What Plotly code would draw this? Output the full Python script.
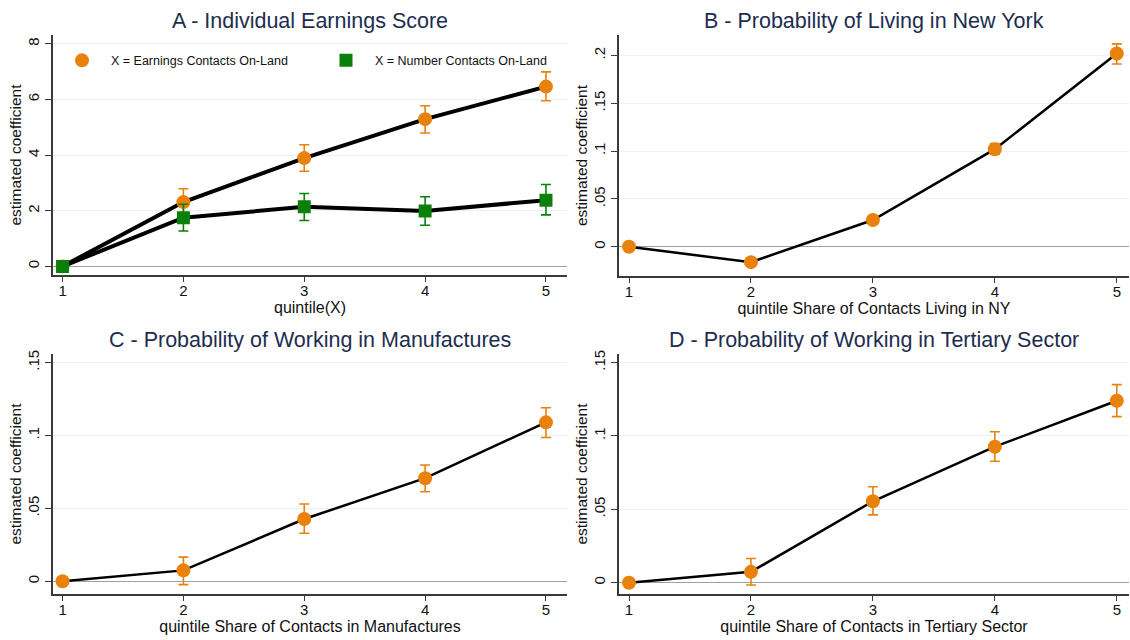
import plotly.graph_objects as go

W, H = 1130, 640

quintiles = [1, 2, 3, 4, 5]

# Panel A
a_earn = [0, 2.31, 3.89, 5.29, 6.46]
a_earn_hi = [0, 2.79, 4.37, 5.77, 6.99]
a_earn_lo = [0, 1.83, 3.42, 4.79, 5.95]
a_num = [0, 1.75, 2.14, 1.99, 2.38]
a_num_hi = [0, 2.23, 2.62, 2.50, 2.94]
a_num_lo = [0, 1.27, 1.65, 1.48, 1.85]

# Panel B
b_val = [0, -0.016, 0.028, 0.102, 0.202]
b_hi = [0, -0.014, 0.031, 0.108, 0.212]
b_lo = [0, -0.018, 0.025, 0.097, 0.191]

# Panel C
c_val = [0, 0.0075, 0.0427, 0.0707, 0.109]
c_hi = [0, 0.0166, 0.053, 0.0798, 0.119]
c_lo = [0, -0.0023, 0.033, 0.0614, 0.0986]

# Panel D
d_val = [0, 0.0074, 0.0555, 0.0927, 0.124]
d_hi = [0, 0.0165, 0.0654, 0.1029, 0.135]
d_lo = [0, -0.0016, 0.0462, 0.0828, 0.1132]

titles = ["A - Individual Earnings Score", "B - Probability of Living in New York",
          "C - Probability of Working in Manufactures", "D - Probability of Working in Tertiary Sector"]
xtitles = ["quintile(X)", "quintile Share of Contacts Living in NY",
           "quintile Share of Contacts in Manufactures", "quintile Share of Contacts in Tertiary Sector"]
ytitle = "estimated coefficient"

a_ticks = [0, 2, 4, 6, 8]
a_ticklabels = ["0", "2", "4", "6", "8"]
b_ticks = [0, 0.05, 0.1, 0.15, 0.2]
b_ticklabels = ["0", ".05", ".1", ".15", ".2"]
cd_ticks = [0, 0.05, 0.1, 0.15]
cd_ticklabels = ["0", ".05", ".1", ".15"]

legend_names = ["X = Earnings Contacts On-Land", "X = Number Contacts On-Land"]

ORANGE = "#E8820C"
GREEN = "#0A800A"
TITLE_COL = "#1E2D4F"
FONT = "Liberation Sans, Arial, sans-serif"

def px_x(a, b):
    return [a / W, b / W]

def px_y(top, bottom):
    return [1 - bottom / H, 1 - top / H]

panels = [
    dict(xd=px_x(53, 567), yd=px_y(31, 273), xr=[0.921, 5.174], yr=[-0.32, 8.32],
         tv=a_ticks, tt=a_ticklabels),
    dict(xd=px_x(619, 1129), yd=px_y(31, 274), xr=[0.918, 5.10], yr=[-0.0308, 0.2215],
         tv=b_ticks, tt=b_ticklabels),
    dict(xd=px_x(53, 567), yd=px_y(352, 594), xr=[0.921, 5.174], yr=[-0.0089, 0.156],
         tv=cd_ticks, tt=cd_ticklabels),
    dict(xd=px_x(619, 1129), yd=px_y(352, 594), xr=[0.918, 5.10], yr=[-0.0079, 0.156],
         tv=cd_ticks, tt=cd_ticklabels),
]

fig = go.Figure()
layout = dict(width=W, height=H, margin=dict(l=0, r=0, t=0, b=0),
              paper_bgcolor="white", plot_bgcolor="white",
              font=dict(family=FONT, color="#111"))

annotations = []
for i, p in enumerate(panels):
    n = "" if i == 0 else str(i + 1)
    layout["xaxis" + n] = dict(domain=p["xd"], range=p["xr"], anchor="y" + n,
                               tickvals=quintiles, ticktext=[str(q) for q in quintiles],
                               showgrid=False, zeroline=False, showline=True,
                               linecolor="#3a3a3a", linewidth=1.5,
                               ticks="outside", ticklen=5, tickcolor="#3a3a3a",
                               ticklabelstandoff=-4,
                               tickfont=dict(size=15, color="#111"),
                               title=dict(text=xtitles[i], font=dict(size=16, color="#111"),
                                          standoff=0))
    layout["yaxis" + n] = dict(domain=p["yd"], range=p["yr"], anchor="x" + n,
                               tickvals=p["tv"], ticktext=p["tt"], tickangle=-90,
                               showgrid=True, gridcolor="#EAF2F3", gridwidth=1.2,
                               zeroline=True, zerolinecolor="#A0A0A0", zerolinewidth=1.3,
                               showline=True, linecolor="#3a3a3a", linewidth=1.5,
                               ticks="outside", ticklen=6, tickcolor="#3a3a3a",
                               tickfont=dict(size=15, color="#111"),
                               title=dict(text=ytitle, font=dict(size=15.5, color="#111"),
                                          standoff=0))
    annotations.append(dict(text=titles[i], xref="paper", yref="paper",
                            x=(p["xd"][0] + p["xd"][1]) / 2, y=p["yd"][1] + 0 / H,
                            xanchor="center", yanchor="bottom", showarrow=False,
                            font=dict(size=21.5, color=TITLE_COL, family=FONT)))

def add_series(vals, hi, lo, color, symbol, n, lw, name=None, showlegend=False):
    xa = "x" + n
    ya = "y" + n
    fig.add_trace(go.Scatter(x=quintiles, y=vals, mode="lines",
                             line=dict(color="black", width=lw),
                             xaxis=xa, yaxis=ya, showlegend=False, hoverinfo="skip"))
    fig.add_trace(go.Scatter(x=quintiles, y=vals, mode="markers",
                             marker=dict(color=color, size=14 if symbol == "circle" else 13,
                                         symbol=symbol, line=dict(width=0)),
                             error_y=dict(type="data", symmetric=False,
                                          array=[h - v for h, v in zip(hi, vals)],
                                          arrayminus=[v - l for v, l in zip(vals, lo)],
                                          color=color, thickness=1.6, width=5),
                             xaxis=xa, yaxis=ya, name=name, showlegend=showlegend))

add_series(a_earn, a_earn_hi, a_earn_lo, ORANGE, "circle", "", 4, legend_names[0], True)
add_series(a_num, a_num_hi, a_num_lo, GREEN, "square", "", 4, legend_names[1], True)
add_series(b_val, b_hi, b_lo, ORANGE, "circle", "2", 2.5)
add_series(c_val, c_hi, c_lo, ORANGE, "circle", "3", 2.5)
add_series(d_val, d_hi, d_lo, ORANGE, "circle", "4", 2.5)

layout["annotations"] = annotations
layout["showlegend"] = True
layout["legend"] = dict(orientation="h", x=53 / W, y=1 - 42 / H, xanchor="left", yanchor="top",
                        bgcolor="rgba(0,0,0,0)", font=dict(size=12.5, color="#111"),
                        entrywidth=201, entrywidthmode="pixels", itemwidth=48,
                        traceorder="normal")
fig.update_layout(**layout)

fig.write_html("out.html", config={"displayModeBar": False},
               post_script="document.body.style.margin='0';document.body.style.overflow='hidden';")
